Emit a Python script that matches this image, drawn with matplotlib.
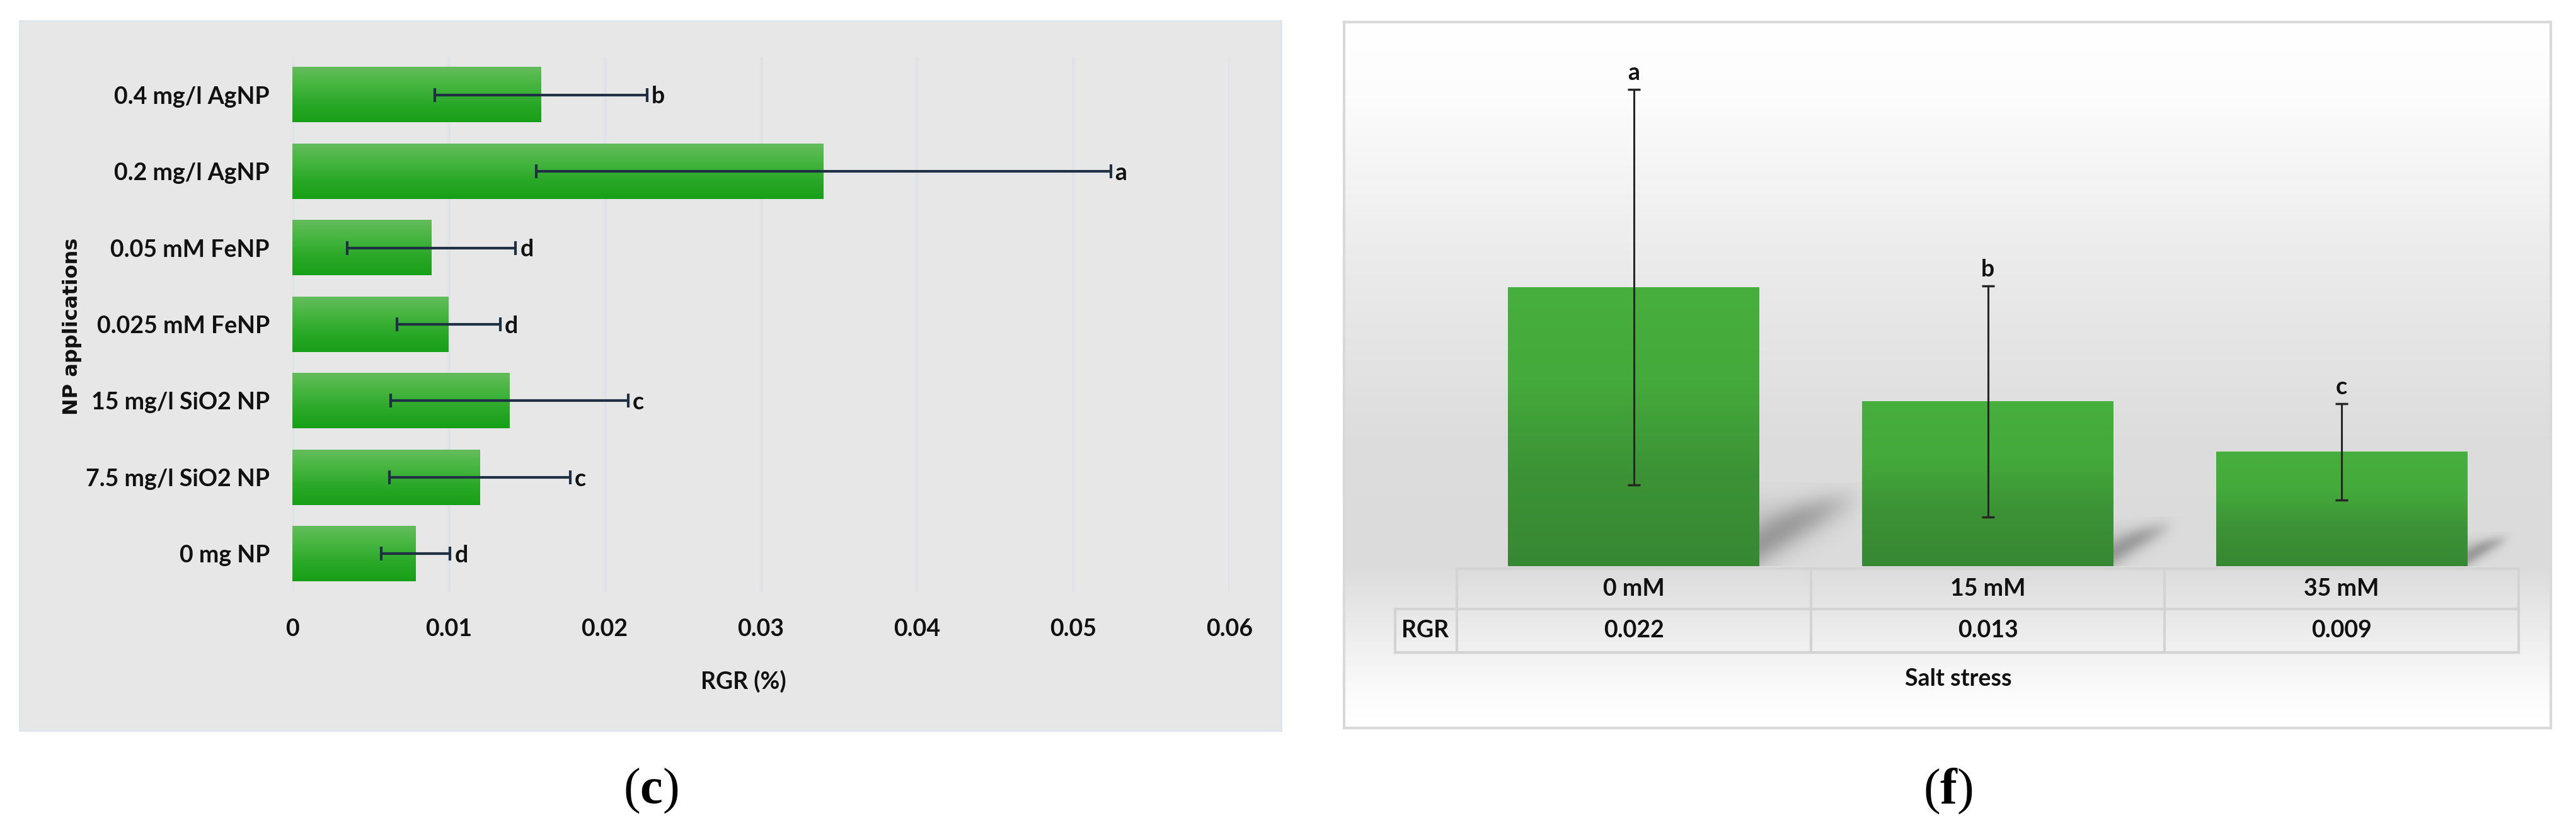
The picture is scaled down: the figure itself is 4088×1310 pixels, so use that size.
import numpy as np
import matplotlib
matplotlib.use("Agg")
from matplotlib import pyplot as plt
from matplotlib.colors import LinearSegmentedColormap
from matplotlib.lines import Line2D
from matplotlib.transforms import blended_transform_factory

# Panel (c): RGR for the nanoparticle applications, listed bottom to top
np_labels = ["0 mg NP", "7.5 mg/l SiO2 NP", "15 mg/l SiO2 NP", "0.025 mM FeNP",
             "0.05 mM FeNP", "0.2 mg/l AgNP", "0.4 mg/l AgNP"]
np_rgr = [0.0079, 0.0120, 0.0139, 0.0100, 0.0089, 0.0340, 0.0159]
np_err = [0.0022, 0.0058, 0.0076, 0.0033, 0.0054, 0.0184, 0.0068]
np_letters = ["d", "c", "c", "d", "d", "a", "b"]
np_ticks = [0, 0.01, 0.02, 0.03, 0.04, 0.05, 0.06]
np_ticklabels = ["0", "0.01", "0.02", "0.03", "0.04", "0.05", "0.06"]

# Panel (f): RGR under salt stress
salt_labels = ["0 mM", "15 mM", "35 mM"]
salt_rgr = [0.022, 0.013, 0.009]
salt_err = [0.0156, 0.0091, 0.0038]
salt_letters = ["a", "b", "c"]

W, H = 4088, 1310
SANS = ["Lato", "DejaVu Sans"]
plt.rcParams["font.family"] = SANS
plt.rcParams["mathtext.fontset"] = "custom"
plt.rcParams["mathtext.rm"] = "Liberation Serif"
plt.rcParams["mathtext.bf"] = "Liberation Serif:bold"


def box(x0, y0, x1, y1):
    # pixel box (top-left origin) -> figure rect
    return [x0 / W, 1 - y1 / H, (x1 - x0) / W, (y1 - y0) / H]


def fx(x):
    return x / W


def fy(y):
    return 1 - y / H


def sigmoid(z):
    return 1 / (1 + np.exp(-z))


def gradient_bar(ax, patch, cmap):
    x, y = patch.get_x(), patch.get_y()
    w, h = patch.get_width(), patch.get_height()
    grad = np.linspace(0, 1, 64).reshape(-1, 1)
    ax.imshow(grad, cmap=cmap, aspect="auto", extent=(x, x + w, y, y + h),
              origin="upper", zorder=2, interpolation="bicubic")


fig = plt.figure(figsize=(W / 100, H / 100), dpi=100)

# ---------------- panel (c) ----------------
bg1 = fig.add_axes(box(31, 33, 2033, 1160))
bg1.set_facecolor("#e7e7e7")
bg1.set_xticks([])
bg1.set_yticks([])
for s in bg1.spines.values():
    s.set_color("#dfe5ec")
    s.set_linewidth(2)

ax1 = fig.add_axes(box(464, 90, 1951, 940))
ax1.set_facecolor("none")
pos1 = np.arange(len(np_labels))
bars1 = ax1.barh(pos1, np_rgr, height=0.72, color="#3fb23c", zorder=2)
green_c = LinearSegmentedColormap.from_list(
    "gc", ["#63bc5b", "#45b53f", "#2aa828", "#17a017"])
for b in bars1:
    gradient_bar(ax1, b, green_c)
ax1.errorbar(np_rgr, pos1, xerr=np_err, fmt="none", ecolor="#1f3044",
             elinewidth=3, capsize=8, capthick=3, zorder=4)
for v, e, p, t in zip(np_rgr, np_err, pos1, np_letters):
    ax1.annotate(t, (v + e, p), xytext=(5, -2), textcoords="offset points",
                 ha="left", va="center", fontsize=27, fontweight="bold",
                 color="#111111")
ax1.set_xlim(0, 0.06)
ax1.set_ylim(-0.5, len(np_labels) - 0.5)
ax1.set_xticks(np_ticks)
ax1.set_xticklabels(np_ticklabels)
ax1.set_yticks(pos1)
ax1.set_yticklabels(np_labels)
ax1.set_axisbelow(True)
ax1.xaxis.grid(True, color="#dfe3e8", linewidth=3.5)
ax1.tick_params(length=0, labelsize=27, colors="#111111")
ax1.tick_params(axis="y", pad=26)
ax1.tick_params(axis="x", pad=30)
for lab in ax1.get_xticklabels() + ax1.get_yticklabels():
    lab.set_fontweight("bold")
for s in ax1.spines.values():
    s.set_visible(False)

fig.text(fx(1180), fy(1082), "RGR (%)", ha="center", va="center",
         fontsize=27, fontweight="bold", color="#111111")
fig.text(fx(115), fy(518), "NP applications", ha="center", va="center",
         rotation=90, fontsize=23, fontweight="bold", family="DejaVu Sans",
         color="#111111")

# ---------------- panel (f) ----------------
bg2 = fig.add_axes(box(2133, 35, 4048, 1156))
stops_y = [35, 150, 400, 700, 900, 1000, 1100, 1156]
stops_g = [1.00, 0.99, 0.925, 0.865, 0.86, 0.925, 0.985, 1.00]
rows = np.interp(np.arange(35, 1157), stops_y, stops_g).reshape(-1, 1)
bg2.imshow(np.repeat(rows[:, :, None], 3, axis=2), aspect="auto",
           extent=(0, 1, 0, 1), interpolation="bilinear")
bg2.set_xticks([])
bg2.set_yticks([])
for s in bg2.spines.values():
    s.set_color("#d9d9d9")
    s.set_linewidth(3)

ax2 = fig.add_axes(box(2312, 94, 3997, 899))
ax2.set_facecolor("none")
ax2.axis("off")
pos2 = np.arange(len(salt_labels))
bar_w = 0.71
ymax = 0.04
ppx = (3997 - 2312) / len(salt_labels)
ppy = (899 - 94) / ymax

# soft diagonal shadows cast to the back-right of each bar
for p, v in zip(pos2, salt_rgr):
    xr = p + bar_w / 2
    h = v * ppy
    umax, vmax = 0.42 * h, 0.30 * h
    u, w = np.meshgrid(np.linspace(0, umax, 160), np.linspace(0, vmax, 120))
    a0, a1 = np.array([0, 0.02 * h]), np.array([0.33 * h, 0.23 * h])
    d = a1 - a0
    n = np.array([-d[1], d[0]]) / np.hypot(*d)
    sd = (u - a0[0]) * n[0] + (w - a0[1]) * n[1]
    top = sigmoid((0.23 * h - w) / (0.03 * h))
    right = sigmoid((0.35 * h - u) / (0.03 * h))
    band = np.exp(-((sd - 0.05 * h) / (0.07 * h)) ** 2)
    fill = sigmoid(sd / (0.025 * h))
    alpha = (0.42 * band + 0.16 * fill) * top * right
    img = np.zeros(u.shape + (4,))
    img[..., :3] = 0.40
    img[..., 3] = np.clip(alpha, 0, 1)
    ax2.imshow(img, origin="lower", aspect="auto", zorder=1,
               extent=(xr, xr + umax / ppx, 0, vmax / ppy),
               interpolation="bilinear")

bars2 = ax2.bar(pos2, salt_rgr, width=bar_w, color="#42a63a", zorder=2)
green_f = LinearSegmentedColormap.from_list(
    "gf", ["#47af3d", "#44aa3b", "#3c9335", "#378833"])
for b in bars2:
    gradient_bar(ax2, b, green_f)
ax2.errorbar(pos2, salt_rgr, yerr=salt_err, fmt="none", ecolor="#262626",
             elinewidth=2.2, capsize=7.5, capthick=2.5, zorder=4)
for p, v, e, t in zip(pos2, salt_rgr, salt_err, salt_letters):
    ax2.annotate(t, (p, v + e), xytext=(0, 7), textcoords="offset points",
                 ha="center", va="bottom", fontsize=27, fontweight="bold",
                 color="#111111")
ax2.set_xlim(-0.5, len(salt_labels) - 0.5)
ax2.set_ylim(0, ymax)

# data table under the bars
bt = blended_transform_factory(ax2.transData, fig.transFigure)
tcol = "#d3d3d3"
edges = np.arange(len(salt_labels) + 1) - 0.5
fig.add_artist(Line2D([edges[0], edges[-1]], [fy(903)] * 2, transform=bt,
                      color=tcol, lw=3))
for yy in (967, 1036):
    fig.add_artist(Line2D([fx(2214), fx(3997)], [fy(yy)] * 2,
                          transform=fig.transFigure, color=tcol, lw=3))
for ex in edges:
    fig.add_artist(Line2D([ex, ex], [fy(903), fy(1036)], transform=bt,
                          color=tcol, lw=3))
fig.add_artist(Line2D([fx(2214)] * 2, [fy(967), fy(1036)],
                      transform=fig.transFigure, color=tcol, lw=3))
for p, lab, v in zip(pos2, salt_labels, salt_rgr):
    fig.text(p, fy(935), lab, transform=bt, ha="center", va="center",
             fontsize=27, fontweight="bold", color="#111111")
    fig.text(p, fy(1001), f"{v:.3f}", transform=bt, ha="center", va="center",
             fontsize=27, fontweight="bold", color="#111111")
fig.text(fx(2262), fy(1001), "RGR", ha="center", va="center", fontsize=27,
         fontweight="bold", color="#111111")
fig.text(fx(3108), fy(1078), "Salt stress", ha="center", va="center",
         fontsize=27, fontweight="bold", color="#111111")

# ---------------- captions ----------------
for x, c in ((1033, "c"), (3091, "f")):
    fig.text(fx(x), fy(1256), "($\\mathbf{" + c + "}$)", ha="center",
             va="center", fontsize=58, family="Liberation Serif",
             color="#000000")

fig.savefig("out.png", dpi=100)
